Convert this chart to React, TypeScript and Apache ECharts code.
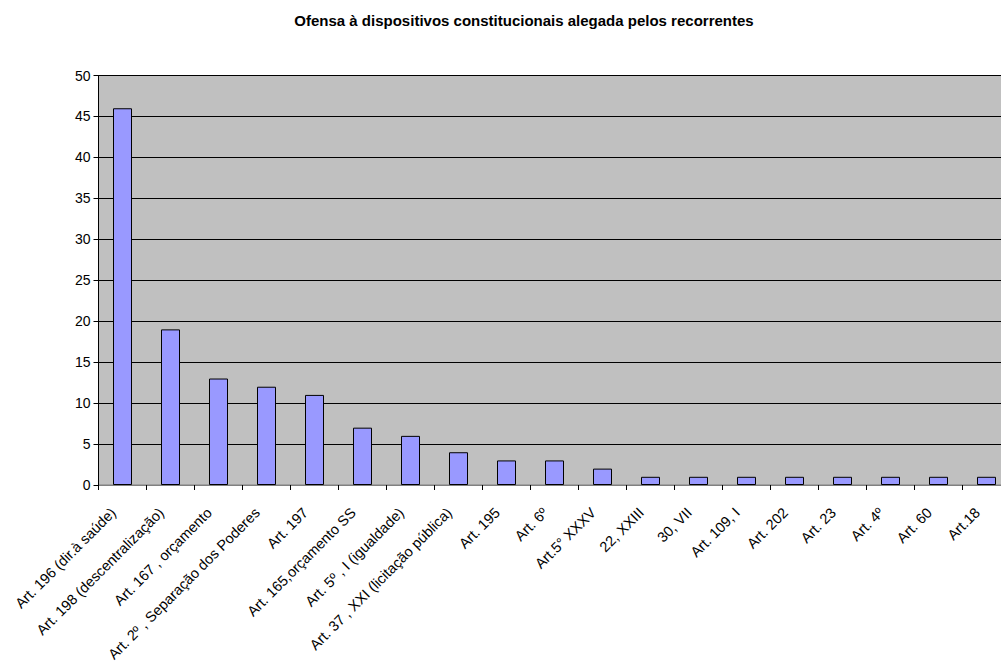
import React, { useEffect, useRef } from "react";
import * as echarts from "echarts";

const titleText = "Ofensa à dispositivos constitucionais alegada pelos recorrentes";
const categories = [
  "Art. 196 (dir.à saúde)",
  "Art. 198 (descentralização)",
  "Art. 167 , orçamento",
  "Art. 2º , Separação dos Poderes",
  "Art. 197",
  "Art. 165,orçamento SS",
  "Art. 5º , I (igualdade)",
  "Art. 37 , XXI (licitação pública)",
  "Art. 195",
  "Art. 6º",
  "Art.5° XXXV",
  "22, XXIII",
  "30, VII",
  "Art. 109, I",
  "Art. 202",
  "Art. 23",
  "Art. 4º",
  "Art. 60",
  "Art.18",
];
const values = [46, 19, 13, 12, 11, 7, 6, 4, 3, 3, 2, 1, 1, 1, 1, 1, 1, 1, 1];

export default function App() {
  const ref = useRef<HTMLDivElement>(null);
  useEffect(() => {
    if (!ref.current) return;
    const chart = echarts.init(ref.current, null, { renderer: "svg" });
    const font = "Arial, 'Liberation Sans', sans-serif";
    chart.setOption({
      animation: false,
      backgroundColor: "#ffffff",
      title: {
        text: titleText,
        left: 519,
        textAlign: "center",
        top: 8,
        textStyle: { fontFamily: font, fontSize: 15, fontWeight: "bold", color: "#000" },
      },
      grid: {
        left: 98.5,
        top: 75.5,
        width: 912,
        bottom: 177,
        outerBoundsMode: "none",
        containLabel: false,
        show: true,
        backgroundColor: "#C0C0C0",
        borderColor: "#808080",
        borderWidth: 1,
      },
      xAxis: {
        type: "category",
        data: categories,
        axisLine: { show: true, lineStyle: { color: "#808080", width: 1 } },
        axisTick: { show: true, alignWithLabel: false, length: 5, lineStyle: { color: "#000" } },
        axisLabel: {
          rotate: 45,
          interval: 0,
          margin: 16,
          padding: [0, 13, 0, 0],
          fontFamily: font,
          fontSize: 14.5,
          color: "#000",
        },
      },
      yAxis: {
        type: "value",
        min: 0,
        max: 50,
        interval: 5,
        axisLine: { show: true, lineStyle: { color: "#000", width: 1 } },
        axisTick: { show: true, length: 5, lineStyle: { color: "#000" } },
        axisLabel: { fontFamily: font, fontSize: 14, color: "#000", margin: 8 },
        splitLine: { show: true, lineStyle: { color: "#000", width: 1 } },
      },
      series: [
        {
          type: "bar",
          data: values,
          barWidth: 19,
          itemStyle: { color: "#9999FF", borderColor: "#000", borderWidth: 1 },
        },
      ],
    });
    return () => chart.dispose();
  }, []);
  return (
    <div style={{ position: "fixed", left: 0, top: 0, width: 1001, height: 662, overflow: "hidden", background: "#fff" }}>
      <div ref={ref} style={{ width: 1020, height: 662 }} />
    </div>
  );
}
